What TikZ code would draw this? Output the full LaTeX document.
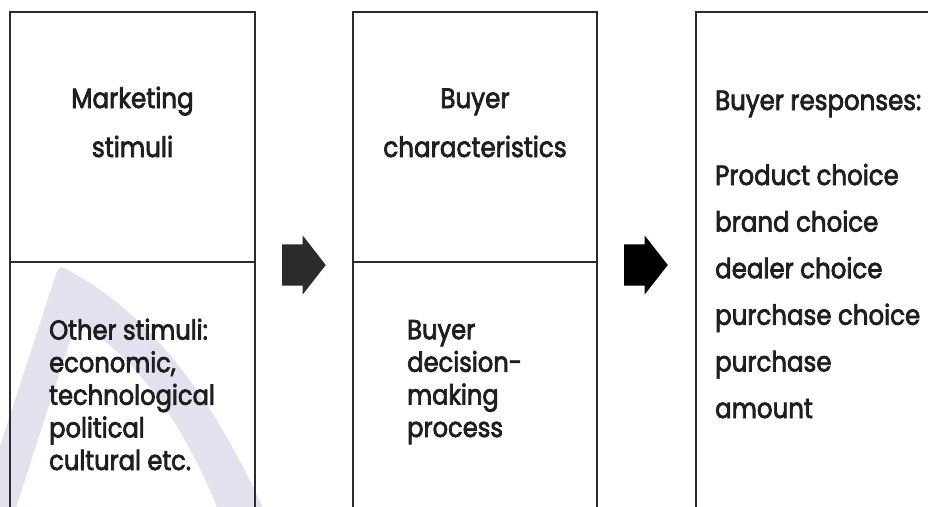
\documentclass[tikz,border=0pt]{standalone}
\usepackage{fontspec}
\setmainfont{Poppins}[FakeStretch=0.88, FakeBold=2.6]
\usetikzlibrary{shapes.arrows}
\definecolor{ink}{HTML}{1E1E1E}
\definecolor{frame}{HTML}{2B2B2B}
\definecolor{lilac}{HTML}{E5E0EE}
\begin{document}
\begin{tikzpicture}[x=1pt,y=-1pt,
  cell/.style={draw=frame, line width=2.8pt, rectangle, inner sep=0pt},
  blockarrow/.style={single arrow, fill=#1, draw=none, inner sep=0pt,
    minimum width=0pt, minimum height=0pt,
    single arrow head extend=9pt, single arrow tip angle=104},
  head/.style={text=ink, inner sep=0pt, align=center, font=\fontsize{28}{49}\selectfont},
  body/.style={text=ink, inner sep=0pt, align=left, font=\fontsize{27.5}{32.6}\selectfont},
  resp/.style={text=ink, inner sep=0pt, align=left, font=\fontsize{27.8}{46.6}\selectfont}]
\useasboundingbox (0,0) rectangle (928,506);
\clip (0,0) rectangle (928,506);
\fill[white] (0,0) rectangle (928,506);

% faint logo swoosh behind the first column
\fill[lilac] (-24,520) -- (56,274)
  .. controls (58,268) and (60,266) .. (64,268)
  .. controls (142,308) and (207,386) .. (262,506)
  -- (262,520) -- (222,520)
  .. controls (186,424) and (132,352) .. (76,322)
  -- (12,520) -- cycle;

% columns
\node[cell, minimum width=245pt, minimum height=250pt] (stim) at (132.5,137) {};
\node[cell, minimum width=245pt, minimum height=298pt] (other) at (132.5,411) {};
\node[cell, minimum width=244pt, minimum height=250pt] (chars) at (475,137) {};
\node[cell, minimum width=244pt, minimum height=298pt] (proc) at (475,411) {};
\node[cell, minimum width=314pt, minimum height=548pt] (resp) at (853,286) {};

% block arrows between the columns
\node[blockarrow=frame, anchor=tip] (a1) at (326,265) {\rule{27pt}{0pt}\rule{0pt}{41pt}};
\node[blockarrow=black, anchor=tip] (a2) at (668,265) {\rule{27pt}{0pt}\rule{0pt}{41pt}};

% labels (anchored on the baseline of their last line)
\node[head, anchor=base] (t1) at (132.5,157) {Marketing\\stimuli};
\node[head, anchor=base] (t2) at (475,157) {Buyer\\characteristics};
\node[body, anchor=base west] (t3) at (49,470) {Other stimuli:\\economic,\\technological\\political\\cultural etc.};
\node[body, anchor=base west] (t4) at (407,437) {Buyer\\decision-\\making\\process};
\node[resp, anchor=base west] (t5) at (715,110) {Buyer responses:};
\node[resp, anchor=base west] (t6) at (715,418) {Product choice\\brand choice\\dealer choice\\purchase choice\\purchase\\amount};
\end{tikzpicture}
\end{document}
